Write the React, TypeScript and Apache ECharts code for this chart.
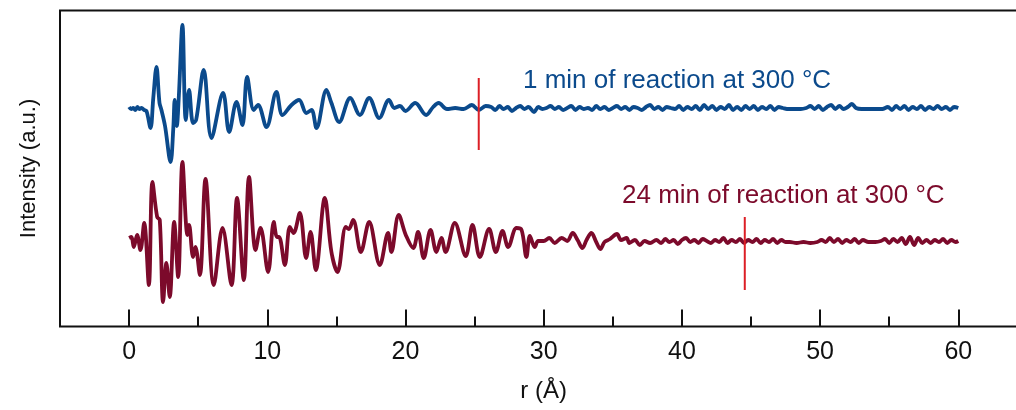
import React, { useEffect, useRef } from "react";
import * as echarts from "echarts";

// ---- axis settings ----
const X_MIN = -5;
const X_MAX = 65;
const MAJOR_TICKS = [0, 10, 20, 30, 40, 50, 60];
const MINOR_TICKS = [5, 15, 25, 35, 45, 55];
const Y_MIN = 0;
const Y_MAX = 316;

// baselines (arbitrary intensity offsets for stacking)
const BLUE_BASE = 218.5;
const RED_BASE = 85.5;

const BLUE_LABEL = "1 min of reaction at 300 °C";
const RED_LABEL = "24 min of reaction at 300 °C";
const X_NAME = "r (Å)";
const Y_NAME = "Intensity (a.u.)";

// ---- data: [r (Å), G(r) deviation, a.u.] ----
const blue1min: number[][] = [
  [0.0, 1], [0.15, -1], [0.3, 0], [0.45, -2], [0.6, 1], [0.75, -1], [0.9, 0], [1.1, -2], [1.26, -3],
  [1.55, -20], [1.75, 10], [1.98, 41], [2.2, 5], [2.34, -2], [2.6, -18], [3.0, -54], [3.2, -20],
  [3.3, 8], [3.45, -18], [3.6, 12], [3.86, 83], [4.1, -12], [4.34, 18], [4.63, -15], [4.85, -12],
  [5.4, 38], [5.96, -30], [6.8, 15], [7.24, -24], [7.77, 6], [8.2, -17], [8.54, 31], [9.02, -2],
  [9.33, 3], [9.94, -19], [10.66, 16], [11.1, -7], [11.75, 3], [12.3, 8], [12.83, -5], [13.2, -2],
  [13.56, -20], [14.28, 18], [14.64, 5], [15.2, -14], [16.0, 10], [16.7, -7], [17.37, 10],
  [18.1, -10], [18.8, 8], [19.2, 0], [19.6, 2], [20.0, -3], [20.7, 5], [21.5, -7], [22.0, 1],
  [22.4, 5], [23.0, -1], [23.6, 0], [24.2, -1], [24.8, 3], [25.3, -2], [25.8, 2],
  [26.2, 1], [26.5, -2], [26.8, 2], [27.1, -1], [27.4, 1], [27.7, -3], [28.0, 0], [28.3, 2],
  [28.6, -1], [28.9, 1], [29.3, -4], [29.6, 1], [29.9, -1], [30.2, 0], [30.5, 2], [30.8, -1],
  [31.1, 1], [31.4, -2], [31.7, 0], [32.0, 2], [32.3, -2], [32.6, 1], [32.9, -1], [33.2, 0],
  [33.5, -2], [33.8, 2], [34.1, -1], [34.4, 1], [34.7, -2], [35.0, 0], [35.3, 2], [35.6, -1],
  [35.9, 1], [36.2, -2], [36.5, 1], [36.8, 0], [37.1, -2], [37.4, 1], [37.7, 3], [38.0, -1],
  [38.3, 1], [38.6, -2], [38.9, 1], [39.2, 0], [39.5, -1], [39.8, 2], [40.1, -2], [40.4, 1],
  [40.7, -1], [41.0, 2], [41.3, -2], [41.6, 3], [41.9, -1], [42.2, 2], [42.5, -2], [42.8, 1],
  [43.1, -1], [43.4, 3], [43.7, -2], [44.0, 1], [44.3, -2], [44.6, 2], [44.9, -1], [45.2, 2],
  [45.5, -2], [45.8, 1], [46.1, -1], [46.4, 2], [46.7, -2], [47.0, 1], [47.3, 0], [47.6, -1],
  [48.1, -1], [48.6, -1], [49.0, 0], [49.3, 2], [49.6, -1], [49.9, 2], [50.2, -2], [50.5, 1],
  [50.8, 3], [51.1, -1], [51.4, 2], [51.7, -1], [52.0, 1], [52.3, 4], [52.6, 0], [53.0, -1],
  [53.5, -1], [54.0, -1], [54.5, -1], [54.9, 1], [55.2, -2], [55.5, 2], [55.8, -1], [56.1, 2],
  [56.4, -2], [56.7, 1], [57.0, -1], [57.3, 2], [57.6, -2], [57.9, 1], [58.2, -1], [58.5, 2],
  [58.8, -1], [59.1, 1], [59.4, -2], [59.7, 1], [60.0, 0],
];

const red24min: number[][] = [
  [0.0, 3], [0.17, 4], [0.34, -6], [0.58, 6], [0.82, -9], [1.09, 18], [1.43, -44], [1.69, 59],
  [2.03, 24], [2.22, 21], [2.46, -61], [2.7, -22], [2.94, -56], [3.26, 19], [3.55, -36],
  [3.86, 79], [4.22, 6], [4.34, 16], [4.63, -16], [4.8, -6], [5.12, -34], [5.53, 62],
  [6.13, -44], [6.76, 13], [7.41, -44], [7.81, 43], [8.3, -39], [8.68, 64], [9.15, -9],
  [9.51, 13], [10.06, -31], [10.47, 19], [10.7, 4], [10.85, 4], [11.27, -24], [11.63, 14],
  [11.9, 8], [12.35, 28], [12.81, -17], [13.13, 9], [13.51, -29], [14.16, 43], [14.64, -11],
  [15.08, -31], [15.68, 14], [15.9, 12], [16.21, 21], [16.77, -11], [17.37, 19], [18.14, -24],
  [18.74, 8], [18.98, -11], [19.51, 26], [20.02, 6], [20.56, -7], [20.91, 9], [21.32, -17],
  [21.81, 11], [22.24, -11], [22.6, 3], [22.9, -11], [23.57, 18], [24.36, -15], [24.85, 16],
  [25.38, -16], [26.05, 12], [26.54, -11], [27.02, 10], [27.43, -6], [28.03, 13], [28.4, 11],
  [28.75, -16], [29.0, 5], [29.35, -6], [29.6, 0], [30.0, 0], [30.4, 3], [30.8, -2], [31.3, 3],
  [31.7, 0], [32.1, 8], [32.45, 1], [32.8, -7], [33.1, 1], [33.45, 8], [33.8, -1], [34.1, -8],
  [34.4, -1], [34.8, 2], [35.3, 7], [35.6, 1], [36.0, 3], [36.2, -2], [36.6, 1], [36.95, -4],
  [37.3, 0], [37.7, -2], [38.15, 1], [38.5, -2], [38.8, 2], [39.1, -1], [39.4, 1], [39.7, -3],
  [40.0, 1], [40.3, 3], [40.6, -1], [40.9, 1], [41.2, -2], [41.5, 2], [41.8, 0], [42.1, -2],
  [42.4, 1], [42.7, -1], [43.0, 3], [43.3, -2], [43.6, 1], [43.9, -1], [44.2, 2], [44.5, -2],
  [44.8, 1], [45.1, -1], [45.4, 2], [45.7, -2], [46.0, 1], [46.3, -1], [46.6, 2], [46.9, -2],
  [47.2, 1], [47.5, -1], [47.8, -1], [48.3, -2], [48.8, -1], [49.3, -2], [49.8, -1], [50.1, 1],
  [50.4, -1], [50.7, 3], [51.0, -1], [51.3, 2], [51.6, -2], [51.9, 1], [52.2, -1], [52.5, 2],
  [52.8, -2], [53.1, 1], [53.5, -1], [54.0, -1], [54.4, 0], [54.7, 2], [55.0, -2], [55.3, 2],
  [55.6, -1], [55.9, 3], [56.2, -3], [56.5, 4], [56.8, -4], [57.1, 3], [57.4, -2], [57.7, 1],
  [58.0, -2], [58.3, 1], [58.6, -1], [58.9, 2], [59.2, -2], [59.5, 1], [59.8, -1], [60.0, 0],
];

// vertical red markers: [r, deviation]
const blueMarker: number[][] = [[25.3, 30], [25.3, -42]];
const redMarker: number[][] = [[44.55, 24], [44.55, -49]];

const BLUE = "#0b4a8c";
const MAROON = "#7c0a2b";
const MARK_RED = "#dc1f26";
const FONT = "'Liberation Sans', Arial, Helvetica, sans-serif";

export default function App() {
  const ref = useRef<HTMLDivElement>(null);

  useEffect(() => {
    if (!ref.current) return;
    const chart = echarts.init(ref.current, null, { renderer: "svg" });

    const shift = (arr: number[][], base: number) => arr.map((p) => [p[0], base + p[1]]);

    const option = {
      animation: false,
      textStyle: { fontFamily: FONT },
      grid: {
        left: 60,
        right: 2.6,
        top: 10.5,
        bottom: 83.5,
        show: true,
        borderColor: "#111",
        borderWidth: 2,
        backgroundColor: "transparent",
      },
      xAxis: [
        {
          type: "value",
          min: X_MIN,
          max: X_MAX,
          position: "bottom",
          axisLine: { show: false },
          splitLine: { show: false },
          axisLabel: { show: false },
          axisTick: {
            show: true,
            inside: true,
            length: 10,
            customValues: MINOR_TICKS,
            lineStyle: { color: "#111", width: 2 },
          },
        },
        {
          type: "value",
          min: X_MIN,
          max: X_MAX,
          position: "bottom",
          axisLine: { show: false },
          splitLine: { show: false },
          axisTick: {
            show: true,
            inside: true,
            length: 17,
            customValues: MAJOR_TICKS,
            lineStyle: { color: "#111", width: 2 },
          },
          axisLabel: {
            show: true,
            customValues: MAJOR_TICKS,
            fontSize: 25,
            color: "#111",
            margin: 11,
            fontFamily: FONT,
          },
          name: X_NAME,
          nameLocation: "middle",
          nameGap: 51,
          nameTextStyle: { fontSize: 24, color: "#111", fontFamily: FONT },
        },
      ],
      yAxis: {
        type: "value",
        min: Y_MIN,
        max: Y_MAX,
        axisLine: { show: false },
        axisTick: { show: false },
        axisLabel: { show: false },
        splitLine: { show: false },
        name: Y_NAME,
        nameLocation: "middle",
        nameGap: 22,
        nameTextStyle: { fontSize: 22, color: "#111", fontFamily: FONT },
      },
      series: [
        {
          type: "line",
          name: BLUE_LABEL,
          data: shift(blue1min, BLUE_BASE),
          smooth: 0.35,
          showSymbol: false,
          lineStyle: { color: BLUE, width: 3.8 },
          z: 3,
        },
        {
          type: "line",
          name: RED_LABEL,
          data: shift(red24min, RED_BASE),
          smooth: 0.35,
          showSymbol: false,
          lineStyle: { color: MAROON, width: 3.8 },
          z: 3,
        },
        {
          type: "line",
          data: shift(blueMarker, BLUE_BASE),
          showSymbol: false,
          lineStyle: { color: MARK_RED, width: 2 },
          z: 4,
        },
        {
          type: "line",
          data: shift(redMarker, RED_BASE),
          showSymbol: false,
          lineStyle: { color: MARK_RED, width: 2 },
          z: 4,
        },
      ],
      graphic: [
        {
          type: "text",
          left: 523,
          top: 66,
          style: { text: BLUE_LABEL, fill: BLUE, fontSize: 26, fontFamily: FONT },
        },
        {
          type: "text",
          left: 622,
          top: 181,
          style: { text: RED_LABEL, fill: MAROON, fontSize: 26, fontFamily: FONT },
        },
      ],
    };

    chart.setOption(option as any);
    return () => chart.dispose();
  }, []);

  return (
    <div style={{ position: "fixed", left: 0, top: 0, width: 1016, height: 410, overflow: "hidden" }}>
      <div ref={ref} style={{ width: 1030, height: 410 }} />
    </div>
  );
}
